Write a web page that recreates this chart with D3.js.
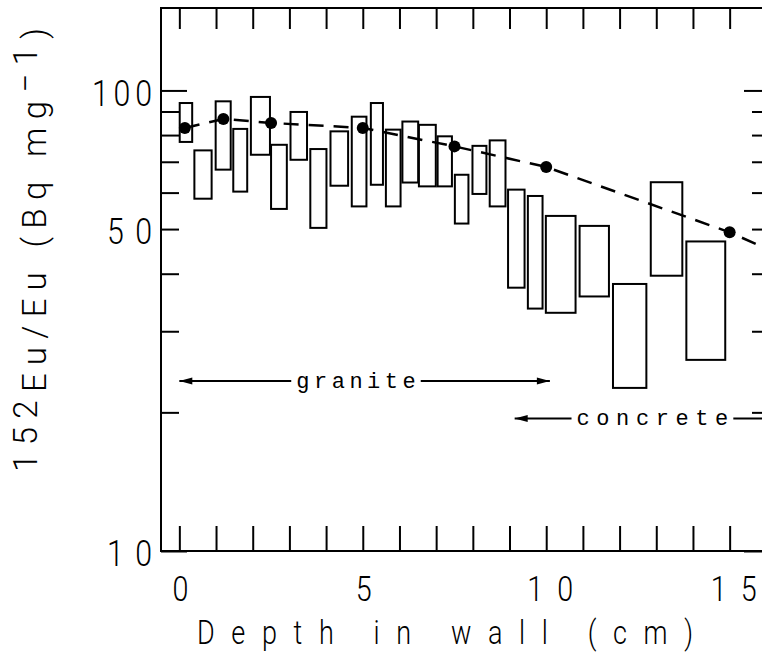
<!DOCTYPE html>
<html><head><meta charset="utf-8">
<script src="https://cdn.jsdelivr.net/npm/d3@7"></script>
<style>html,body{margin:0;padding:0;background:#fff;} svg{display:block;}</style>
</head><body>
<svg id="chart" width="762" height="653"></svg>
<script>
// ---- data ----
const barDepthStart = [0.01,0.41,0.99,1.47,1.95,2.50,3.03,3.57,4.12,4.70,5.22,5.63,6.08,6.53,7.04,7.51,7.99,8.46,8.96,9.50,9.99,10.91,11.82,12.85,13.82];
const barDepthEnd   = [0.35,0.88,1.40,1.85,2.47,2.93,3.48,4.01,4.60,5.10,5.55,6.03,6.51,6.99,7.43,7.88,8.37,8.89,9.41,9.90,10.80,11.71,12.73,13.71,14.88];
const barHigh = [93.9,74.1,94.7,82.5,96.8,76.2,89.8,74.6,81.5,87.7,93.9,82.2,85.6,84.2,79.5,65.6,75.8,77.9,60.9,59.0,53.4,50.8,38.0,63.2,47.0];
const barLow  = [77.3,58.2,67.3,60.3,72.5,55.3,70.7,50.3,62.1,56.0,62.4,56.0,63.1,61.9,61.9,51.4,59.6,56.0,37.3,33.6,32.9,35.7,22.6,39.6,26.0];
const pointDepth = [0.15,1.2,2.5,5.0,7.5,10.0,15.0];
const pointValue = [82.9,86.7,85.0,82.9,75.6,68.2,49.2];
const trendDepth = [0.15,1.2,2.5,5.0,7.5,10.0,15.0,16.1];
const trendValue = [82.9,86.7,85.0,82.9,75.6,68.2,49.2,45.0];
const xTickValues = [0,1,2,3,4,5,6,7,8,9,10,11,12,13,14,15,16];
const xTickLabels = [0,5,10,15];
const yMajorTicks = [10,100];
const yMinorTicks = [20,30,40,50,60,70,80,90];
const yTickLabels = [100,50,10];
const xTitle = "Depth in wall (cm)";
const granite = {label:"granite", from:0, to:10.1, value:23.4, gapFrom:3.05, gapTo:6.58};
const concrete = {label:"concrete", from:9.14, to:16.3, value:19.4, gapFrom:10.69, gapTo:15.1};

// ---- layout ----
const L = 161, R = 770, T = 8, B = 551;
const svg = d3.select("#chart");
const x = d3.scaleLinear().domain([-0.5, 16.1]).range([L, R]);
const y = d3.scaleLog().domain([10, 151]).range([B, T]);
const sans = "Roboto, 'DejaVu Sans', sans-serif";
const mono = "'Liberation Mono', 'DejaVu Sans Mono', monospace";

// frame
svg.append("rect").attr("x", L).attr("y", T).attr("width", R - L).attr("height", B - T)
  .attr("fill", "none").attr("stroke", "#000").attr("stroke-width", 2);

// axes (ticks inward)
function styleAxis(g){ g.select(".domain").remove(); g.selectAll("text").remove();
  g.selectAll("line").attr("stroke", "#000").attr("stroke-width", 2); }
svg.append("g").attr("transform", `translate(0,${T})`)
  .call(d3.axisTop(x).tickValues(xTickValues).tickSize(-21).tickSizeOuter(0)).call(styleAxis);
svg.append("g").attr("transform", `translate(0,${B})`)
  .call(d3.axisBottom(x).tickValues(xTickValues).tickSize(-25).tickSizeOuter(0)).call(styleAxis);
svg.append("g").attr("transform", `translate(${L},0)`)
  .call(d3.axisLeft(y).tickValues(yMinorTicks).tickSize(-18).tickSizeOuter(0)).call(styleAxis);
svg.append("g").attr("transform", `translate(${L},0)`)
  .call(d3.axisLeft(y).tickValues(yMajorTicks).tickSize(-26).tickSizeOuter(0)).call(styleAxis);
svg.append("g").attr("transform", `translate(${R},0)`)
  .call(d3.axisRight(y).tickValues(yMinorTicks).tickSize(-18).tickSizeOuter(0)).call(styleAxis);
svg.append("g").attr("transform", `translate(${R},0)`)
  .call(d3.axisRight(y).tickValues(yMajorTicks).tickSize(-26).tickSizeOuter(0)).call(styleAxis);

// tick labels (condensed)
const SX = 0.82;
yTickLabels.forEach(v => {
  svg.append("g").attr("transform", `translate(152,${y(v) + 2}) scale(${SX},1)`)
    .append("text").attr("text-anchor", "end").attr("dy", "0.36em")
    .attr("font-family", sans).attr("font-weight", 300).attr("font-size", 37)
    .attr("textLength", (String(v).length === 3 ? 60 : 45) / SX).attr("lengthAdjust", "spacing")
    .text(v);
});
xTickLabels.forEach(v => {
  const s = String(v);
  const t = svg.append("g").attr("transform", `translate(${x(v) + (s.length > 1 ? 4 : 1)},601) scale(${SX},1)`)
    .append("text").attr("text-anchor", "middle")
    .attr("font-family", sans).attr("font-weight", 300).attr("font-size", 35).text(s);
  if (s.length > 1) t.attr("textLength", 46 / SX).attr("lengthAdjust", "spacing");
});
// x title
svg.append("g").attr("transform", `translate(445,644) scale(${SX},1)`)
  .append("text").attr("text-anchor", "middle")
  .attr("font-family", sans).attr("font-weight", 300).attr("font-size", 33)
  .attr("textLength", 496 / SX).attr("lengthAdjust", "spacing").text(xTitle);

// y title
const yt = svg.append("text").attr("transform", "translate(46,250) rotate(-90)")
  .attr("text-anchor", "middle").attr("font-family", sans).attr("font-weight", 300)
  .attr("font-size", 33).attr("textLength", 444).attr("lengthAdjust", "spacing");
yt.append("tspan").attr("dy", -9).text("152");
yt.append("tspan").attr("dy", 9).text("Eu/Eu  (Bq  mg");
yt.append("tspan").attr("dy", -9).text("\u22121");
yt.append("tspan").attr("dy", 9).text(")");

// clip for plot contents
svg.append("clipPath").attr("id", "plotclip").append("rect")
  .attr("x", L).attr("y", T).attr("width", R - L).attr("height", B - T);
const plot = svg.append("g").attr("clip-path", "url(#plotclip)");

// bars (range boxes)
const bars = barDepthStart.map((d, i) => ({x0: d, x1: barDepthEnd[i], lo: barLow[i], hi: barHigh[i]}));
plot.selectAll("rect.bar").data(bars).join("rect").attr("class", "bar")
  .attr("x", d => x(d.x0)).attr("width", d => x(d.x1) - x(d.x0))
  .attr("y", d => y(d.hi)).attr("height", d => y(d.lo) - y(d.hi))
  .attr("fill", "none").attr("stroke", "#000").attr("stroke-width", 2);

// dashed trend line
const trend = trendDepth.map((d, i) => [d, trendValue[i]]);
plot.append("path").datum(trend)
  .attr("d", d3.line().x(d => x(d[0])).y(d => y(d[1])))
  .attr("fill", "none").attr("stroke", "#000").attr("stroke-width", 2.5)
  .attr("stroke-dasharray", "15,10");
plot.selectAll("circle.pt").data(pointDepth.map((d, i) => [d, pointValue[i]])).join("circle")
  .attr("class", "pt").attr("cx", d => x(d[0])).attr("cy", d => y(d[1])).attr("r", 6).attr("fill", "#000");

// annotations
function arrowHead(px, py, dir){ // dir: -1 left, +1 right
  return `M${px},${py} L${px - dir*13},${py - 3.5} L${px - dir*13},${py + 3.5} Z`;
}
function annot(a, baseline){
  const yy = y(a.value);
  plot.append("line").attr("x1", x(a.from)).attr("x2", x(a.gapFrom)).attr("y1", yy).attr("y2", yy)
    .attr("stroke", "#000").attr("stroke-width", 2);
  plot.append("line").attr("x1", x(a.gapTo)).attr("x2", x(a.to)).attr("y1", yy).attr("y2", yy)
    .attr("stroke", "#000").attr("stroke-width", 2);
  plot.append("path").attr("d", arrowHead(x(a.from), yy, -1)).attr("fill", "#000");
  plot.append("path").attr("d", arrowHead(x(a.to), yy, 1)).attr("fill", "#000");
  const w = x(a.gapTo) - x(a.gapFrom) - 10;
  plot.append("text").attr("x", (x(a.gapFrom) + x(a.gapTo)) / 2).attr("y", yy + baseline)
    .attr("text-anchor", "middle").attr("font-family", mono).attr("font-size", 22)
    .attr("textLength", w).attr("lengthAdjust", "spacing").text(a.label);
}
annot(granite, 7);
annot(concrete, 7);
</script>
</body></html>
